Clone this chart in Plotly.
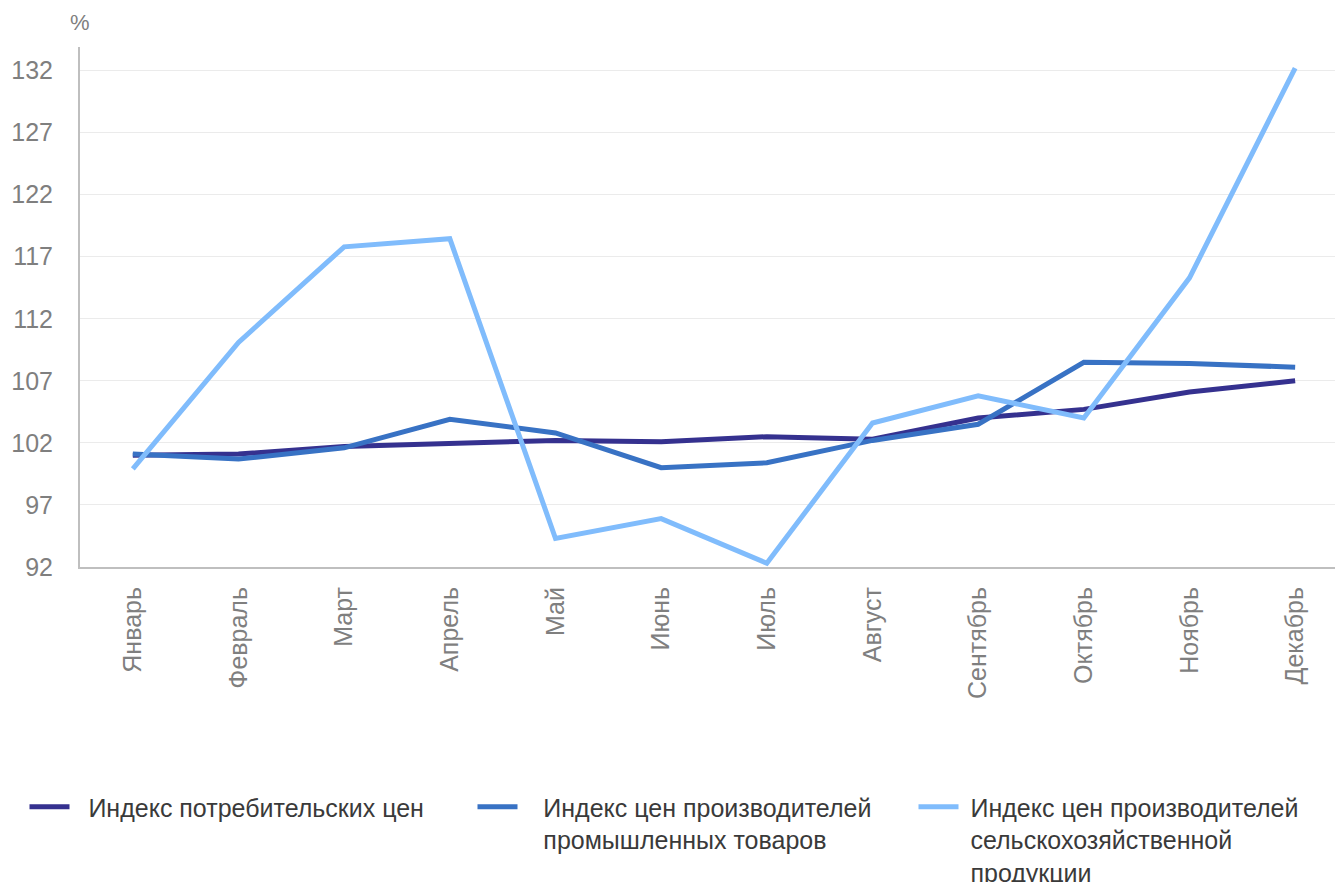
import plotly.graph_objects as go

months = ["Январь", "Февраль", "Март", "Апрель", "Май", "Июнь", "Июль",
          "Август", "Сентябрь", "Октябрь", "Ноябрь", "Декабрь"]
cpi = [101.0, 101.1, 101.7, 102.0, 102.2, 102.1, 102.5, 102.3, 104.0, 104.7, 106.1, 107.0]
industrial = [101.1, 100.7, 101.6, 103.9, 102.8, 100.0, 100.4, 102.2, 103.5, 108.5, 108.4, 108.1]
agri = [99.9, 110.1, 117.8, 118.45, 94.3, 95.9, 92.3, 103.6, 105.8, 104.0, 115.3, 132.2]

names = ["Индекс потребительских цен",
         "Индекс цен производителей<br>промышленных товаров",
         "Индекс цен производителей<br>сельскохозяйственной<br>продукции"]
colors = ["#35318f", "#3872c4", "#80bcfc"]
series = [cpi, industrial, agri]
legend_ids = ["legend", "legend2", "legend3"]
pads = ["\u00a0\u00a0", "\u00a0\u00a0\u00a0", "\u00a0"]

W, H = 1335, 910
L, T, PLOT_BOTTOM = 80, 47, 567
PW, PH = W - L, PLOT_BOTTOM - T

fig = go.Figure()
for n, c, s, lg, pad in zip(names, colors, series, legend_ids, pads):
    label = "<br>".join(pad + part for part in n.split("<br>"))
    fig.add_trace(go.Scatter(x=months, y=s, name=label, mode="lines",
                             line=dict(color=c, width=5), legend=lg))

tick_font = dict(family="Liberation Sans, Arial, sans-serif", size=25, color="#7f7f7f")
legend_font = dict(family="Liberation Sans, Arial, sans-serif", size=25, color="#3a3a3a")


def legend_at(x_px, top_px=784):
    return dict(xref="paper", yref="paper", x=(x_px - L) / PW, xanchor="left",
                y=(PLOT_BOTTOM - top_px) / PH, yanchor="top", font=legend_font,
                valign="top", itemwidth=40, bgcolor="rgba(0,0,0,0)")


fig.update_layout(
    width=W, height=H, autosize=False,
    margin=dict(l=L, r=0, t=T, b=H - PLOT_BOTTOM),
    plot_bgcolor="white", paper_bgcolor="white",
    font=dict(family="Liberation Sans, Arial, sans-serif"),
    xaxis=dict(
        range=[-0.5, 11.377], tickangle=-90, tickfont=tick_font,
        showgrid=False, showline=True, linecolor="#bfbfbf", linewidth=2,
        ticks="", ticklabelstandoff=8, zeroline=False, automargin=False,
    ),
    yaxis=dict(
        range=[92, 133.9], tickvals=[92, 97, 102, 107, 112, 117, 122, 127, 132],
        tickfont=tick_font, showgrid=True, gridcolor="#ebebeb", gridwidth=1,
        showline=True, linecolor="#bfbfbf", linewidth=2, ticks="",
        ticklabelstandoff=20, zeroline=False, automargin=False,
    ),
    legend=legend_at(24.5),
    legend2=legend_at(472.5),
    legend3=legend_at(913.5),
    showlegend=True,
    annotations=[dict(text="%", xref="paper", yref="paper", x=0, y=1,
                      xanchor="center", yanchor="bottom", yshift=10, showarrow=False,
                      font=dict(family="Liberation Sans, Arial, sans-serif", size=22, color="#7f7f7f"))],
)

fig.write_html(
    "out.html",
    config={"displayModeBar": False},
    post_script=("document.body.style.margin='0';"
                 "document.body.style.overflow='hidden';"
                 "document.documentElement.style.overflow='hidden';"),
)
